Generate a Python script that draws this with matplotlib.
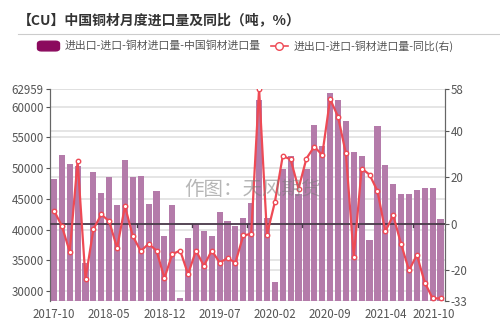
import matplotlib
matplotlib.use("Agg")
import matplotlib.pyplot as plt
from matplotlib.patches import FancyBboxPatch
from matplotlib.transforms import ScaledTranslation
import numpy as np

plt.rcParams['font.family'] = ['Noto Sans CJK SC', 'DejaVu Sans']

# monthly copper product imports (tons), 2017-10 .. 2021-10
imports = [48180, 52190, 50720, 50350, 34500, 49420, 46000, 48600, 44000, 51330,
           48500, 48720, 44110, 46230, 38950, 43950, 28810, 38680, 40860, 39820,
           39000, 42810, 41400, 40630, 41930, 44280, 61090, 41930, 31510, 49810,
           51980, 45790, 49810, 57020, 53600, 62280, 61090, 57620, 52630, 51980,
           38300, 56860, 50510, 47420, 45740, 45850, 46440, 46820, 46820, 41720]
# year-on-year change (%)
yoy = [5.7, -0.9, -12.0, 27.0, -23.7, -2.3, 4.0, 1.1, -10.4, 7.5,
       -5.3, -11.7, -8.6, -11.5, -23.3, -13.0, -11.5, -21.6, -11.5, -18.0,
       -11.5, -16.6, -14.8, -16.6, -5.0, -4.3, 58.0, -4.6, 9.3, 29.1,
       27.6, 15.1, 28.0, 33.1, 29.5, 53.5, 46.0, 30.2, -14.1, 23.7,
       21.1, 14.1, -3.2, 3.6, -8.7, -19.9, -13.4, -25.2, -32.0, -32.0]

tick_idx = [0, 7, 14, 21, 28, 35, 42, 49]
tick_labels = ['2017-10', '2018-05', '2018-12', '2019-07',
               '2020-02', '2020-09', '2021-04', '2021-10']
left_ticks = [30000, 35000, 40000, 45000, 50000, 55000, 60000, 62959]
right_ticks = [-33, -20, 0, 20, 40, 58]

left_lim = (28420, 62959)
right_lim = (-33, 58)

bar_color = '#B47BAA'
legend_color = '#8B0A5E'
line_color = '#EE4A55'
text_color = '#555555'
grid_color = '#E0E0E0'

fig = plt.figure(figsize=(5.0, 3.22), dpi=100)
ax = fig.add_axes([0.10, 0.066, 0.789, 0.659])
ax2 = ax.twinx()

x = np.arange(len(imports))

# grid lines of both axes, kept behind the bars
for v in left_ticks:
    ax.axhline(v, color=grid_color, lw=1.2, zorder=0)
for v in right_ticks:
    # map right-axis value onto left-axis scale
    frac = (v - right_lim[0]) / (right_lim[1] - right_lim[0])
    ax.axhline(left_lim[0] + frac * (left_lim[1] - left_lim[0]),
               color=grid_color, lw=1.2, zorder=0)

ax.bar(x, imports, width=0.78, color=bar_color, zorder=2)
ax.set_ylim(*left_lim)
ax.set_xlim(-0.5, len(imports) - 0.5)
ax.set_yticks(left_ticks)
ax.set_yticklabels([str(v) for v in left_ticks])

ax2.axhline(0, color='#4a3a4a', lw=1.3, zorder=3)
# small ticks on the zero line
for b in [10.5, 17.5, 24.5, 31.5, 38.5, 45.5]:
    ax2.plot([b, b], [0, -1.3], color='#4a3a4a', lw=1, zorder=3)
ax2.plot(x, yoy, color=line_color, lw=1.6, marker='o', ms=3.2,
         mfc='white', mec=line_color, mew=1, zorder=4)
ax2.set_ylim(*right_lim)
ax2.set_yticks(right_ticks)
ax2.set_yticklabels([str(v) for v in right_ticks])
ax.set_zorder(ax2.get_zorder() - 1)
ax.patch.set_visible(False)

ax.set_xticks(tick_idx)
ax.set_xticklabels(tick_labels)
ax.tick_params(axis='x', length=0, pad=5, labelsize=8.3, colors=text_color)
ax.tick_params(axis='y', length=3, pad=1.5, labelsize=8.3, colors=text_color)
ax2.tick_params(axis='y', length=3, pad=1.5, labelsize=8.3, colors=text_color)

# nudge the last date label left so it clears the -33 label
last = ax.get_xticklabels()[-1]
last.set_transform(last.get_transform() + ScaledTranslation(-5 / 72, 0, fig.dpi_scale_trans))

for a in (ax, ax2):
    a.spines['top'].set_visible(False)
    a.spines['bottom'].set_visible(False)
    a.spines['left'].set_color('#666666')
    a.spines['right'].set_color('#666666')

# watermark
fig.text(0.505, 0.41, '作图：天风期货', fontsize=14, color='#7a7a7a',
         alpha=0.55, ha='center', va='center', zorder=10)

# title and separator
fig.text(0.035, 0.938, '【CU】中国铜材月度进口量及同比（吨，%）', fontsize=10,
         fontweight='bold', color='#333333', va='center')
fig.add_artist(plt.Line2D([0.035, 1.0], [0.895, 0.895], color='#cccccc', lw=0.8))

# legend
fig.add_artist(FancyBboxPatch((0.075, 0.842), 0.044, 0.03,
                              boxstyle='round,pad=0,rounding_size=0.008',
                              transform=fig.transFigure, color=legend_color))
fig.text(0.130, 0.857, '进出口-进口-铜材进口量-中国铜材进口量', fontsize=7.8,
         color=text_color, va='center')
fig.add_artist(plt.Line2D([0.541, 0.576], [0.857, 0.857], color=line_color, lw=1.2))
fig.add_artist(plt.Line2D([0.5585], [0.857], marker='o', ms=5.5, mfc='white',
                          mec=line_color, mew=1, color=line_color))
fig.text(0.588, 0.857, '进出口-进口-铜材进口量-同比(右)', fontsize=7.8,
         color=text_color, va='center')

fig.savefig('out.png', dpi=100)
